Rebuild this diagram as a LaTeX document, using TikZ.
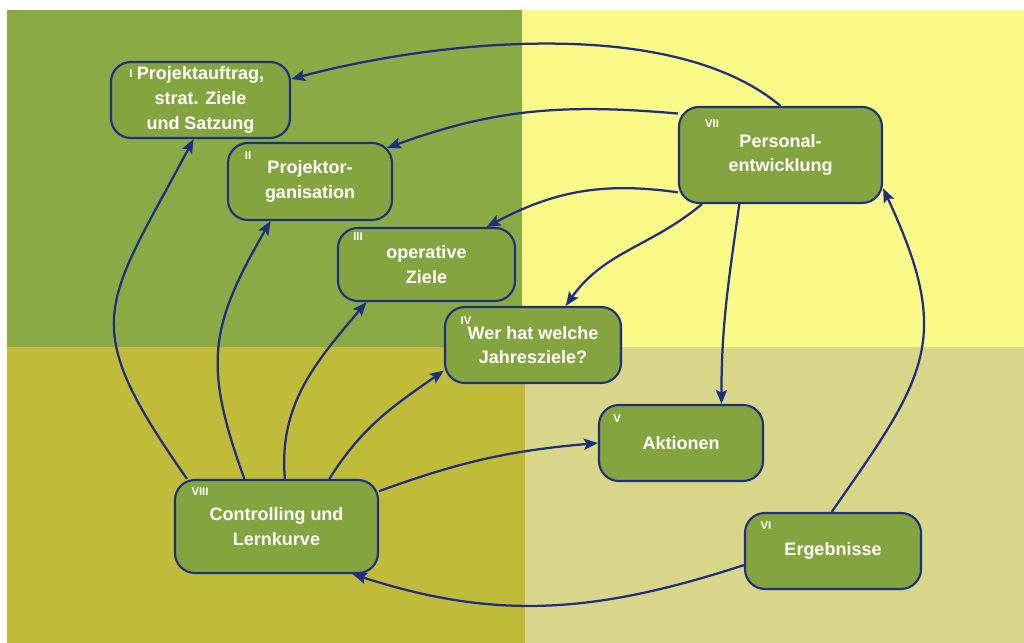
\documentclass[tikz,border=0pt]{standalone}
\usepackage{fontspec}
\setmainfont{Liberation Sans}
\usetikzlibrary{arrows.meta, calc, positioning}

\definecolor{quadTL}{HTML}{8AAA45}
\definecolor{quadTR}{HTML}{FBF987}
\definecolor{quadBL}{HTML}{C0BC3A}
\definecolor{quadBR}{HTML}{D9D68A}
\definecolor{boxfill}{HTML}{84A43F}
\definecolor{navy}{HTML}{1C2F80}

\tikzset{
  phase/.style={draw=navy, line width=1.5pt, fill=boxfill, rounded corners=0.5cm,
    text=white, font=\bfseries\fontsize{12.8}{17.5}\selectfont, align=center, inner sep=0pt},
  numlbl/.style={text=white, font=\bfseries\fontsize{8}{9}\selectfont, inner sep=0pt},
  conn/.style={draw=navy, line width=1.6pt, -{Stealth[length=10pt,width=8pt,inset=2pt]}},
}

\begin{document}
\begin{tikzpicture}[x=0.025cm, y=0.025cm]
        % background quadrants
        \fill[white] (0,0) rectangle (1024,643);
        \fill[quadTL] (7,296) rectangle (522,633);
        \fill[quadTR] (522,296) rectangle (1024,633);
        \fill[quadBL] (7,0) rectangle (525,296);
        \fill[quadBR] (525,0) rectangle (1024,296);

        % phases
        \node[phase, minimum width=4.475cm, minimum height=1.9cm] (auftrag) at (200.5,543) {Projektauftrag,\\strat. Ziele\\und Satzung};
        \node[phase, minimum width=4.1cm, minimum height=1.925cm] (orga) at (310,461.5) {Projektor-\\ganisation};
        \node[phase, minimum width=4.425cm, minimum height=1.825cm] (opziele) at (426.5,378.5) {operative\\Ziele};
        \node[phase, minimum width=4.4cm, minimum height=1.9cm] (jahresziele) at (533,298) {Wer hat welche\\Jahresziele?};
        \node[phase, minimum width=4.1cm, minimum height=1.9cm] (aktionen) at (681,200) {Aktionen};
        \node[phase, minimum width=4.4cm, minimum height=1.9cm] (ergebnisse) at (833,92) {Ergebnisse};
        \node[phase, minimum width=5.075cm, minimum height=2.4cm] (personal) at (780.5,488) {Personal-\\entwicklung};
        \node[phase, minimum width=5.075cm, minimum height=2.325cm] (controlling) at (276.5,116.5) {Controlling und\\Lernkurve};

        % numbers
        \node[numlbl] (n1) at (131,569) {I};
        \node[numlbl] (n2) at (248,487) {II};
        \node[numlbl] (n3) at (358,406) {III};
        \node[numlbl] (n4) at (466,322) {IV};
        \node[numlbl] (n5) at (617,224) {V};
        \node[numlbl] (n6) at (766,117) {VI};
        \node[numlbl] (n7) at (712,519) {VII};
        \node[numlbl] (n8) at (200,151) {VIII};

        % connections from Personalentwicklung
        \draw[conn] (personal.north) to[out=140, in=15, looseness=0.75] (auftrag.13);
        \draw[conn] (personal.158) to[out=175, in=20] ($(orga.north east)+(-6,-6)$);
        \draw[conn] (personal.200) to[out=172, in=28] (opziele.32);
        \draw[conn] (personal.212) to[out=220, in=55] (jahresziele.50);
        \draw[conn] (personal.230) to[out=262, in=90] (aktionen.44);

        % connections from Ergebnisse
        \draw[conn] (ergebnisse.92) to[out=55, in=-65, looseness=1.3] (personal.-18);
        \draw[conn] (ergebnisse.189) to[out=198, in=-18] (controlling.-32);

        % connections from Controlling
        \draw[conn] (controlling.152) to[out=125, in=242, looseness=1.45] (auftrag.-100);
        \draw[conn] (controlling.124) to[out=110, in=240, looseness=1.2] (orga.225);
        \draw[conn] (controlling.80) to[out=95, in=230] (opziele.212);
        \draw[conn] (controlling.42) to[out=58, in=215] (jahresziele.196);
        \draw[conn] (controlling.19) to[out=20, in=185] (aktionen.west);
\end{tikzpicture}
\end{document}
